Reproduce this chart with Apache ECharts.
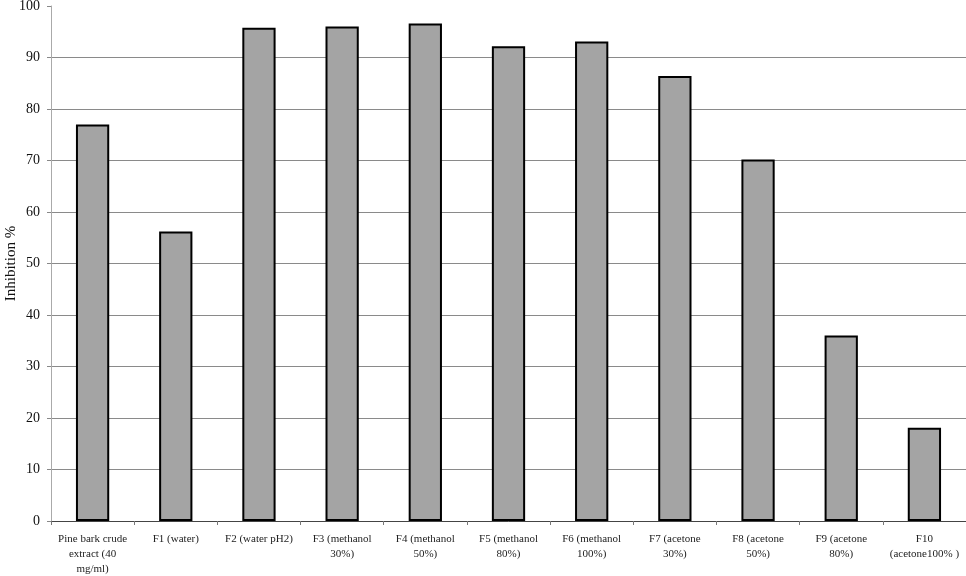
<!DOCTYPE html>
<html>
<head>
<meta charset="utf-8">
<script src="https://cdn.jsdelivr.net/npm/echarts@6/dist/echarts.min.js"></script>
<style>html,body{margin:0;padding:0;background:#fff}#c{width:966px;height:576px}</style>
</head>
<body>
<div id="c"></div>
<script>
const categories = [
  "Pine bark crude\nextract (40\nmg/ml)",
  "F1 (water)",
  "F2 (water pH2)",
  "F3 (methanol\n30%)",
  "F4 (methanol\n50%)",
  "F5 (methanol\n80%)",
  "F6 (methanol\n100%)",
  "F7 (acetone\n30%)",
  "F8 (acetone\n50%)",
  "F9 (acetone\n80%)",
  "F10\n(acetone100% )"
];
const inhibition = [77, 56.2, 95.8, 96.0, 96.6, 92.2, 93.1, 86.4, 70.2, 36.0, 18.1];
const yTicks = { min: 0, max: 100, interval: 10 };
const yName = "Inhibition %";

const chart = echarts.init(document.getElementById('c'), null, { renderer: 'canvas' });
const serif = '"Liberation Serif", "DejaVu Serif", serif';
chart.setOption({
  animation: false,
  backgroundColor: '#fff',
  grid: { left: 51, right: 0, top: 6, bottom: 55, containLabel: false, outerBoundsMode: 'none' },
  xAxis: {
    type: 'category',
    data: categories,
    boundaryGap: true,
    axisLine: { show: true, lineStyle: { color: '#444', width: 1 } },
    axisTick: { show: true, alignWithLabel: false, length: 4, lineStyle: { color: '#777' } },
    axisLabel: { interval: 0, color: '#222', fontFamily: serif, fontSize: 11, lineHeight: 15, margin: 11, align: 'center' },
    splitLine: { show: false }
  },
  yAxis: {
    type: 'value',
    min: yTicks.min, max: yTicks.max, interval: yTicks.interval,
    name: yName,
    nameLocation: 'middle',
    nameGap: 32,
    nameRotate: 90,
    nameMoveOverlap: false,
    nameTextStyle: { fontFamily: serif, fontSize: 15, color: '#111' },
    axisLine: { show: true, lineStyle: { color: '#aaa', width: 1 } },
    axisTick: { show: true, length: 4, lineStyle: { color: '#888' } },
    axisLabel: { color: '#111', fontFamily: serif, fontSize: 14, margin: 11 },
    splitLine: { show: true, showMaxLine: false, lineStyle: { color: '#8a8a8a', width: 1 } }
  },
  series: [{
    type: 'bar',
    data: inhibition,
    barWidth: '40%',
    itemStyle: { color: '#a4a4a4', borderColor: '#000', borderWidth: 2 }
  }]
});
</script>
</body>
</html>
